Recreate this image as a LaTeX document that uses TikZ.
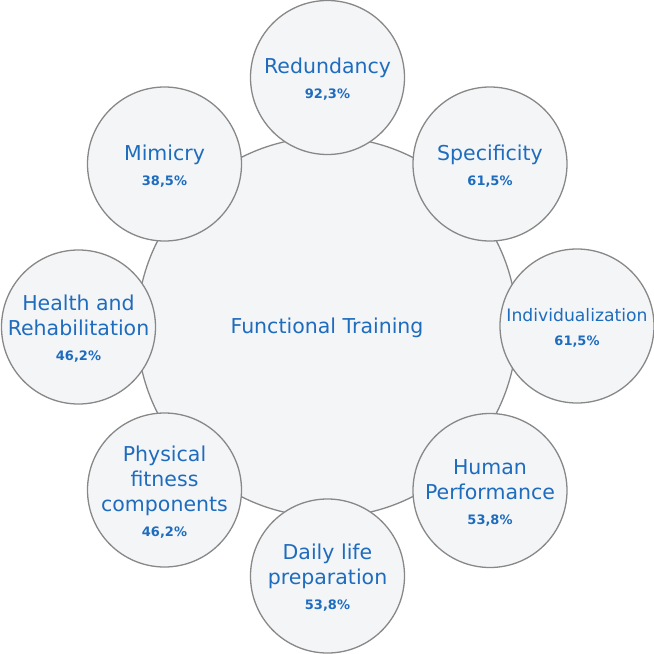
\documentclass[tikz,border=0pt]{standalone}
\usepackage{fontspec}
\setmainfont{DejaVu Sans}
\newfontfamily\pctface{DejaVu Sans Bold}
\definecolor{txtblue}{RGB}{30,108,190}
\definecolor{cfill}{RGB}{244,245,247}
\definecolor{cline}{RGB}{136,136,136}
\begin{document}
\begin{tikzpicture}[x=1pt,y=-1pt,
  disc/.style={circle,draw=cline,fill=cfill,line width=1.3pt,inner sep=0pt},
  hub/.style={disc,minimum size=380pt},
  sat/.style={disc,minimum size=154pt},
  lbl/.style={text=txtblue,align=center,inner sep=0pt,font=\fontsize{20.5}{25}\selectfont},
  lblsmall/.style={lbl,font=\fontsize{17.2}{24}\selectfont}]
\useasboundingbox (0,0) rectangle (654,654);
\newcommand{\pctxt}[1]{{\pctface\fontsize{13}{15}\selectfont #1}}
\node[hub] (hub) at (327,327) {};
\node[sat] (red) at (327.5,77.5) {};
\node[sat] (spe) at (490,164) {};
\node[sat] (ind) at (577,326) {};
\node[sat] (hum) at (490,490.5) {};
\node[sat] (dai) at (327.5,576) {};
\node[sat] (phy) at (164.5,490) {};
\node[sat] (hea) at (78.5,327) {};
\node[sat] (mim) at (164.5,164) {};
\node[lbl] (thub) at ([yshift=-1pt]hub.center) {Functional Training};
\node[lbl] (tred) at ([yshift=-2pt]red.center) {Redundancy\\\pctxt{92,3\%}};
\node[lbl] (tspe) at ([yshift=-2pt]spe.center) {Specificity\\\pctxt{61,5\%}};
\node[lblsmall] (tind) at ([yshift=-2pt]ind.center) {Individualization\\\pctxt{61,5\%}};
\node[lbl] (thum) at ([yshift=-2pt]hum.center) {Human\\Performance\\\pctxt{53,8\%}};
\node[lbl] (tdai) at ([yshift=-2pt]dai.center) {Daily life\\preparation\\\pctxt{53,8\%}};
\node[lbl] (tphy) at ([yshift=-2pt]phy.center) {Physical\\fitness\\components\\\pctxt{46,2\%}};
\node[lbl] (thea) at ([yshift=-2pt]hea.center) {Health and\\Rehabilitation\\\pctxt{46,2\%}};
\node[lbl] (tmim) at ([yshift=-2pt]mim.center) {Mimicry\\\pctxt{38,5\%}};
\end{tikzpicture}
\end{document}
